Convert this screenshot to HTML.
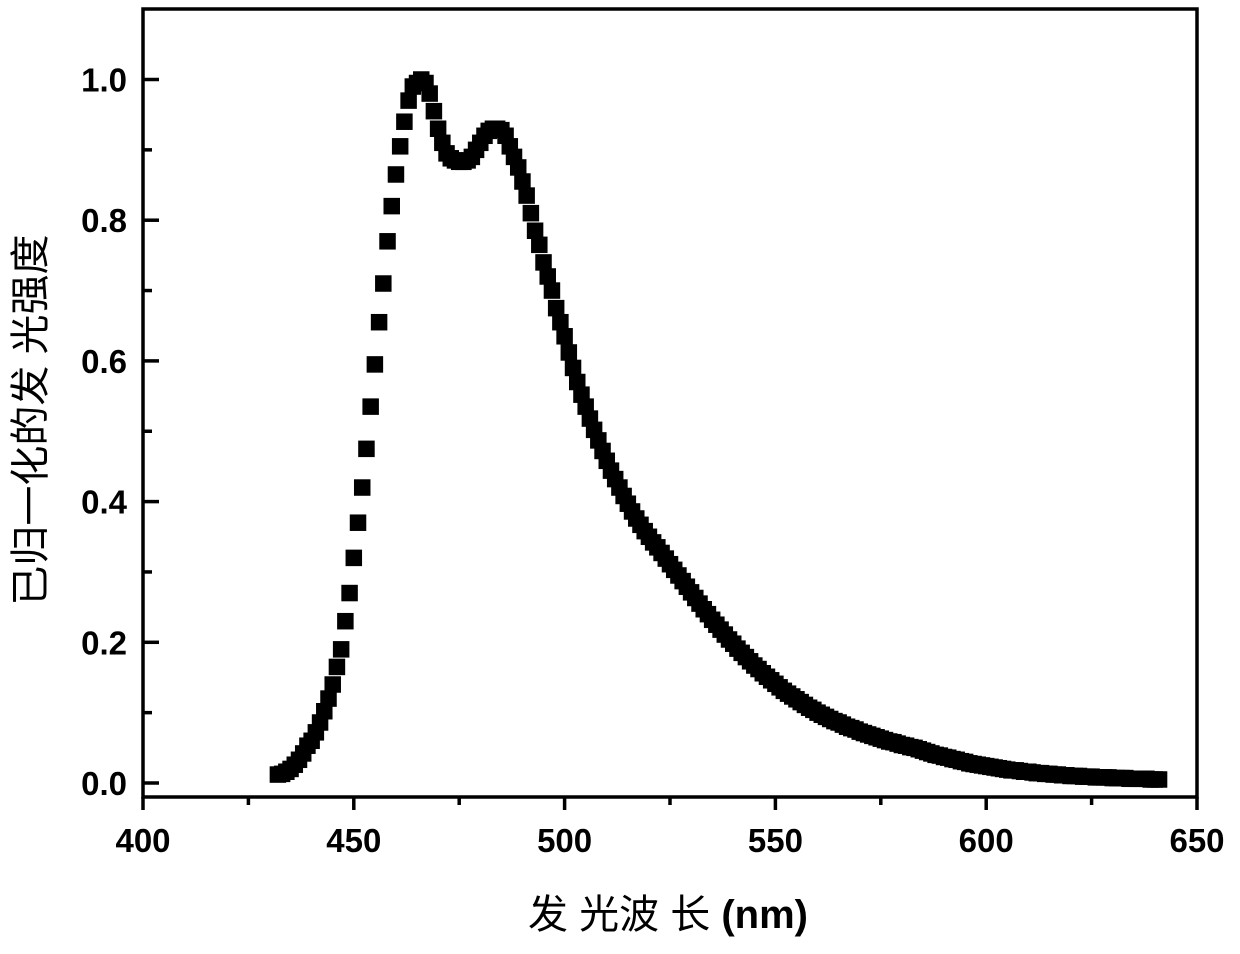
<!DOCTYPE html>
<html><head><meta charset="utf-8"><style>
html,body{margin:0;padding:0;background:#fff;}
svg{display:block;}
.tk{font-family:"Liberation Sans",Arial,sans-serif;font-weight:bold;font-size:33px;fill:#000;}
.ttl{font-family:"Liberation Sans","Noto Sans CJK SC",sans-serif;font-size:40px;fill:#000;}
</style></head><body>
<svg id="chart" width="1240" height="954" viewBox="0 0 1240 954">
<g id="axes"></g>
<g id="marks"></g>
<text class="ttl" x="668" y="928" text-anchor="middle">发 光波 长 <tspan font-weight="bold">(nm)</tspan></text>
<text class="ttl" transform="translate(44,420) rotate(-90)" text-anchor="middle">已归一化的发 光强度</text>
</svg>
<script>
const wlStart = 432;
const intensity = [
0.012,0.013,0.016,0.020,0.026,0.033,0.042,0.053,0.060,0.072,0.086,0.102,0.120,0.140,0.165,0.190,0.230,0.270,0.320,0.370,0.420,0.475,0.535,0.595,0.655,0.710,0.770,0.820,0.865,0.905,0.940,0.970,0.990,0.995,1.000,0.995,0.980,0.955,0.930,0.910,0.895,0.888,0.885,0.883,0.883,0.885,0.890,0.900,0.910,0.920,0.927,0.930,0.930,0.928,0.920,0.905,0.890,0.875,0.855,0.835,0.810,0.785,0.765,0.740,0.720,0.700,0.675,0.655,0.635,0.612,0.590,0.570,0.552,0.535,0.518,0.502,0.487,0.472,0.458,0.444,0.432,0.420,0.408,0.397,0.386,0.376,0.367,0.358,0.350,0.342,0.335,0.327,0.319,0.311,0.303,0.295,0.287,0.279,0.271,0.263,0.255,0.247,0.240,0.232,0.225,0.218,0.211,0.204,0.198,0.191,0.185,0.179,0.173,0.167,0.162,0.156,0.151,0.146,0.141,0.136,0.131,0.127,0.123,0.119,0.115,0.111,0.107,0.104,0.100,0.097,0.094,0.091,0.088,0.086,0.083,0.080,0.078,0.076,0.073,0.071,0.069,0.067,0.065,0.063,0.061,0.059,0.058,0.056,0.054,0.053,0.051,0.050,0.048,0.046,0.044,0.042,0.040,0.039,0.037,0.036,0.034,0.033,0.031,0.030,0.028,0.027,0.026,0.025,0.024,0.023,0.022,0.021,0.020,0.019,0.018,0.018,0.017,0.016,0.016,0.015,0.014,0.014,0.013,0.013,0.012,0.012,0.011,0.011,0.010,0.010,0.010,0.009,0.009,0.009,0.008,0.008,0.008,0.008,0.007,0.007,0.007,0.007,0.006,0.006,0.006,0.006,0.006,0.005,0.005,0.005
];
const xTickLabels = [400,450,500,550,600,650];
const yTickLabels = ["0.0","0.2","0.4","0.6","0.8","1.0"];
const yTickValues = [0,0.2,0.4,0.6,0.8,1.0];

const NS="http://www.w3.org/2000/svg";
const X0=143, X1=1197, Y0=783, YTOP=9, YBOT=797;
function sx(nm){return X0+(nm-400)*(X1-X0)/250;}
function sy(v){return Y0-v*703.5;}
function mk(tag,attrs,parent){const e=document.createElementNS(NS,tag);for(const k in attrs)e.setAttribute(k,attrs[k]);parent.appendChild(e);return e;}
const axes=document.getElementById('axes');
const frame=mk('rect',{x:X0,y:YTOP,width:X1-X0,height:YBOT-YTOP,fill:'none',stroke:'#000','stroke-width':3.5},axes);


// x ticks
for(let nm=400;nm<=650;nm+=25){
  const major=nm%50===0;
  const t=mk('line',{x1:sx(nm),x2:sx(nm),y1:YBOT,y2:YBOT+(major?13:8),stroke:'#000','stroke-width':3.5},axes);
  
  
}
xTickLabels.forEach(v=>{
  const t=mk('text',{x:sx(v),y:852,'text-anchor':'middle',class:'tk'},axes);
  t.textContent=v;
  
  
});
// y ticks
for(let i=0;i<=10;i++){
  const v=i/10, major=i%2===0;
  const t=mk('line',{x1:X0,x2:X0+(major?16:9),y1:sy(v),y2:sy(v),stroke:'#000','stroke-width':3.5},axes);
  
  
}
yTickValues.forEach((v,i)=>{
  const t=mk('text',{x:127,y:sy(v)+12,'text-anchor':'end',class:'tk'},axes);
  t.textContent=yTickLabels[i];
  
  
});
// markers
const marks=document.getElementById('marks');
const S=16.5;
intensity.forEach((v,i)=>{
  const nm=wlStart+i;
  const r=mk('rect',{x:sx(nm)-S/2,y:sy(v)-S/2,width:S,height:S,fill:'#000'},marks);
  
  
});
</script>
</body></html>
